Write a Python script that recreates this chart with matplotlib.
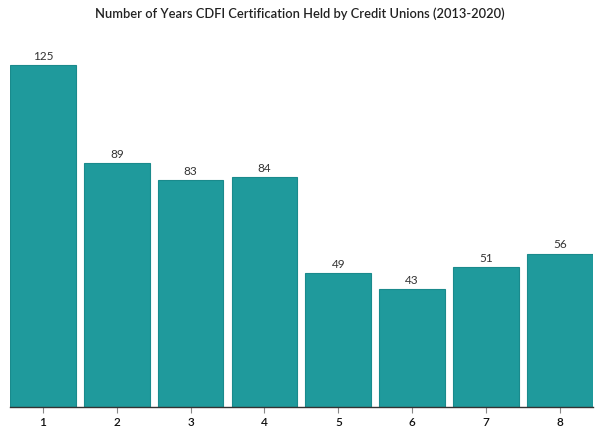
import matplotlib
matplotlib.use('Agg')
import matplotlib.pyplot as plt

# Years of CDFI certification held and number of credit unions
years = [1, 2, 3, 4, 5, 6, 7, 8]
counts = [125, 89, 83, 84, 49, 43, 51, 56]

plt.rcParams['font.family'] = ['Lato', 'DejaVu Sans']

fig = plt.figure(figsize=(6, 4.29), dpi=100)
ax = fig.add_axes([0.0167, 0.0513, 0.9713, 0.877])

bars = ax.bar(years, counts, width=0.89, color='#1f9a9c', edgecolor='#1a8a8c', linewidth=0.8)

# value labels above bars
for x, v in zip(years, counts):
    ax.text(x, v + 1.2, str(v), ha='center', va='bottom', fontsize=8.5, color='#333333')

ax.set_xlim(0.555, 8.445)
ax.set_ylim(0, 137.5)
ax.set_xticks(years)
ax.set_xticklabels([str(y) for y in years], fontsize=8.5, color='#111111', fontweight='semibold')
ax.set_yticks([])

for side in ['top', 'right', 'left']:
    ax.spines[side].set_visible(False)
ax.spines['bottom'].set_color('#333333')
ax.spines['bottom'].set_linewidth(1)
ax.tick_params(axis='x', length=4, color='#888888', pad=3)

fig.text(0.5, 0.967, 'Number of Years CDFI Certification Held by Credit Unions (2013-2020)',
         ha='center', va='center', fontsize=9.3, fontweight='semibold', color='#222222')

fig.savefig('out.png', dpi=100)
plt.close(fig)
